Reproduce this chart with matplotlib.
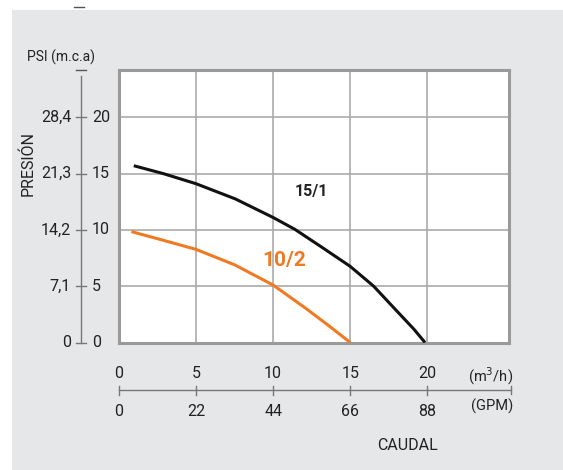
import numpy as np
import matplotlib.pyplot as plt
from matplotlib.transforms import blended_transform_factory
from matplotlib.patches import Rectangle

# Curve data (flow m3/h, head m.c.a)
q_151 = [0.96, 2.87, 5, 7.55, 10, 11.41, 13.17, 15, 16.52, 18.02, 19.12, 19.85]
h_151 = [15.7, 15.0, 14.1, 12.75, 11.1, 10.05, 8.45, 6.76, 5.0, 2.8, 1.2, 0]
q_102 = [0.8, 2.68, 5, 7.5, 10, 12.05, 13.6, 15.0]
h_102 = [9.85, 9.15, 8.27, 6.9, 5.1, 3.1, 1.5, 0]

mca_ticks = [0, 5, 10, 15, 20]
psi_labels = ["0", "7,1", "14,2", "21,3", "28,4"]
m3h_ticks = [0, 5, 10, 15, 20]
gpm_labels = ["0", "22", "44", "66", "88"]

BG = "#e6e7e9"
ORANGE = "#f07a22"
plt.rcParams["font.family"] = ["Roboto", "DejaVu Sans"]

W, H = 563, 470
fig = plt.figure(figsize=(W / 100, H / 100), dpi=100, facecolor="white")
fig.patches.append(Rectangle((12 / W, 0), 1, (H - 10) / H, transform=fig.transFigure,
                             facecolor=BG, edgecolor="none", zorder=-10))
# small stray dash at the very top
fig.add_artist(plt.Line2D([74 / W, 84 / W], [1 - 7 / H, 1 - 7 / H], color="#555555", lw=1))

x0, x1, ytop, ybot = 119, 509, 70, 342.5
ax = fig.add_axes([x0 / W, (H - ybot) / H, (x1 - x0) / W, (ybot - ytop) / H])
ax.set_facecolor("white")
ax.set_xlim(0, 25.3)
ax.set_ylim(0, 24.2)
ax.set_xticks([5, 10, 15, 20])
ax.set_yticks([5, 10, 15, 20])
ax.grid(True, color="#aaaaaa", lw=1.2)
ax.tick_params(length=0, labelbottom=False, labelleft=False)
for s in ax.spines.values():
    s.set_color("#9a9a9a")
    s.set_linewidth(2.2)

ax.plot(q_151, h_151, color="#111111", lw=2.2, solid_capstyle="butt",
        solid_joinstyle="round", zorder=3)
ax.plot(q_102, h_102, color=ORANGE, lw=2.2, solid_capstyle="butt",
        solid_joinstyle="round", zorder=3)
ax.text(12.5, 13.4, "15/1", color="#222222", fontsize=11.5, fontweight="bold",
        ha="center", va="center")
ax.text(10.7, 7.3, "10/2", color=ORANGE, fontsize=15, fontweight="bold",
        ha="center", va="center")

# ---- left pressure scale ----
tl = blended_transform_factory(fig.transFigure, ax.transData)
ax.plot([81 / W, 81 / W], [0, 23.7], transform=tl, color="#777777", lw=1, clip_on=False)
ax.plot([76 / W, 86 / W], [24.2, 24.2], transform=tl, color="#555555", lw=1, clip_on=False)
for v, lab in zip(mca_ticks, psi_labels):
    ax.plot([76 / W, 86 / W], [v, v], transform=tl, color="#777777", lw=1, clip_on=False)
    ax.text(71 / W, v, lab, transform=tl, ha="right", va="center", fontsize=11.5, color="#222222")
    ax.text(92 / W, v, str(v), transform=tl, ha="left", va="center", fontsize=11.5, color="#222222")
fig.text(27 / W, 1 - 57 / H, "PSI (m.c.a)", ha="left", va="center", fontsize=10, color="#222222")
fig.text(28 / W, 1 - 163 / H, "PRESIÓN", rotation=90, ha="center", va="center",
         fontsize=11.5, color="#222222")

# ---- bottom flow scale ----
tb = blended_transform_factory(ax.transData, fig.transFigure)
yl = (H - 390) / H
ax.plot([0, 25.45], [yl, yl], transform=tb, color="#777777", lw=1, clip_on=False)
for v, lab in zip(m3h_ticks, gpm_labels):
    ax.plot([v, v], [yl - 5 / H, yl + 4 / H], transform=tb, color="#777777", lw=1, clip_on=False)
    ax.text(v, (H - 373) / H, str(v), transform=tb, ha="center", va="center",
            fontsize=11.5, color="#222222")
    ax.text(v, (H - 412) / H, lab, transform=tb, ha="center", va="center",
            fontsize=11.5, color="#222222")
ax.plot([25.45, 25.45], [yl - 4 / H, yl + 4 / H], transform=tb, color="#777777", lw=1, clip_on=False)
fig.text(491 / W, 1 - 376 / H, "(m$^3$/h)", ha="center", va="center", fontsize=10.5, color="#222222")
fig.text(492 / W, 1 - 406 / H, "(GPM)", ha="center", va="center", fontsize=10.5, color="#222222")
fig.text(407 / W, 1 - 446 / H, "CAUDAL", ha="center", va="center", fontsize=11.5, color="#222222")

fig.savefig("out.png", dpi=100, facecolor="white")
